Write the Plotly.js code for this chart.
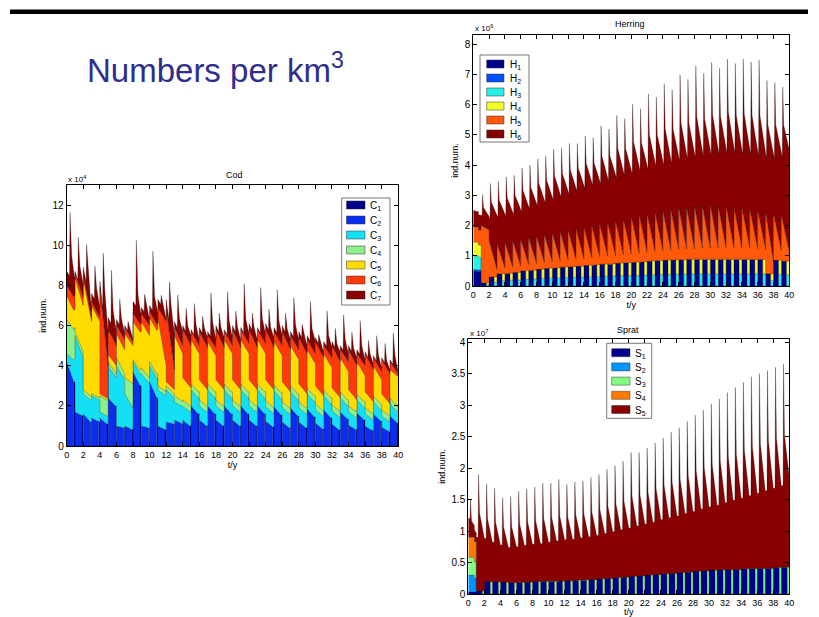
<!DOCTYPE html>
<html><head><meta charset="utf-8">
<script src="https://cdn.plot.ly/plotly-3.0.1.min.js"></script>
<style>html,body{margin:0;padding:0;background:#fff;}#chart{width:819px;height:617px;}</style>
</head><body><div id="chart"></div>
<script>
// ---------------- Cod (x 10^4 ind.), one cycle per year ----------------
const codNames = ['C<sub>1</sub>','C<sub>2</sub>','C<sub>3</sub>','C<sub>4</sub>','C<sub>5</sub>','C<sub>6</sub>','C<sub>7</sub>'];
const codC1 = [3.2,1.5,1.2,1.2,1.1,2.0,0.9,0.8,3.0,0.9,2.4,0.8,1.1,1.1,1.0,1.6,1.0,1.6,1.0,1.6,1.0,1.6,1.0,1.6,0.95,1.55,0.9,1.5,0.9,1.45,0.85,1.4,0.8,1.35,0.8,1.3,0.75,1.25,0.7,1.15];
const codC2Start = [4.2,1.7,1.6,1.4,1.4,2.4,1.0,1.0,3.7,1.0,3.2,1.0,1.2,1.3,1.3,2.0,1.3,2.0,1.3,2.0,1.3,2.0,1.3,2.0,1.25,1.95,1.2,1.9,1.2,1.85,1.15,1.8,1.1,1.7,1.05,1.65,1.0,1.6,0.95,1.5];
const codC2End = [3.2,1.5,1.2,1.2,1.1,2.0,0.9,0.8,3.0,0.9,2.4,0.8,1.1,1.1,1.0,1.6,1.0,1.6,1.0,1.6,1.0,1.6,1.0,1.6,0.95,1.55,0.9,1.5,0.9,1.45,0.85,1.4,0.8,1.35,0.8,1.3,0.75,1.25,0.7,1.15];
const codC3Start = [0.4,3.8,1.0,1.1,0.3,1.6,3.0,1.6,0.5,2.6,0.8,1.8,1.6,0.9,0.7,0.8,0.7,0.8,0.7,0.8,0.7,0.8,0.7,0.8,0.7,0.8,0.7,0.8,0.7,0.75,0.65,0.7,0.65,0.7,0.65,0.65,0.6,0.6,0.55,0.6];
const codC3End = [1.2,2.9,1.1,1.1,0.4,1.4,2.4,1.1,0.6,2.2,1.0,1.7,1.3,0.9,0.7,0.8,0.7,0.8,0.7,0.8,0.7,0.8,0.7,0.8,0.7,0.8,0.7,0.8,0.7,0.75,0.65,0.7,0.65,0.65,0.6,0.6,0.55,0.55,0.5,0.55];
const codC4Start = [1.7,0.2,0.2,0.1,0.8,0.2,0.4,0.8,0.1,0.3,0.2,0.2,0.2,0.3,0.3,0.3,0.3,0.3,0.3,0.3,0.3,0.3,0.3,0.3,0.3,0.3,0.3,0.3,0.3,0.3,0.3,0.3,0.3,0.3,0.3,0.3,0.3,0.3,0.3,0.3];
const codC4End = [1.5,0.3,0.2,0.1,0.8,0.2,0.3,1.2,0.2,0.3,0.2,0.2,0.2,0.2,0.3,0.3,0.3,0.3,0.3,0.3,0.3,0.3,0.3,0.3,0.3,0.3,0.3,0.3,0.3,0.3,0.3,0.3,0.3,0.3,0.3,0.3,0.3,0.3,0.3,0.2];
const codC5Start = [1.2,2.7,5.5,4.4,0.1,0.4,1.2,2.2,1.9,2.3,2.2,3.4,0.2,3.0,1.1,2.2,1.0,2.1,1.0,2.2,1.0,2.2,1.0,2.2,1.05,2.15,1.0,2.0,0.9,1.9,0.9,1.8,0.85,1.7,0.8,1.6,0.8,1.5,0.8,1.4];
const codC5End = [0.9,2.3,3.7,3.8,0.1,0.4,1.2,1.9,1.9,2.1,2.2,1.3,0.2,2.4,0.9,1.9,0.8,1.8,0.8,1.9,0.8,1.9,0.8,1.9,0.85,1.85,0.8,1.7,0.7,1.6,0.7,1.5,0.65,1.4,0.6,1.3,0.6,1.2,0.6,1.6];
const codC6Start = [0.5,0.2,0.2,0.2,5.3,1.2,0.4,0.3,0.4,0.4,0.3,0.5,3.6,0.4,2.4,0.4,2.4,0.3,2.5,0.4,2.5,0.5,2.5,0.5,2.5,0.5,2.5,0.5,2.3,0.5,2.2,0.4,2.1,0.4,2.0,0.4,1.9,0.4,1.7,0.4];
const codC6End = [0.7,0.4,0.2,0.2,1.6,1.0,0.5,0.2,0.4,0.5,0.3,2.2,1.0,0.4,2.1,0.4,2.1,0.4,2.1,0.4,2.1,0.5,2.1,0.5,2.1,0.5,2.1,0.5,2.0,0.5,1.9,0.5,1.8,0.5,1.7,0.5,1.6,0.4,1.5,0.1];
const codC7Start = [0.7,0.1,0.4,0.4,0.3,0.6,0.3,0.1,0.6,0.3,0.3,0.4,0.5,0.3,0.2,0.1,0.2,0.2,0.2,0.1,0.2,0.1,0.3,0.1,0.3,0.2,0.3,0.2,0.3,0.2,0.2,0.2,0.2,0.2,0.2,0.2,0.1,0.1,0.1,0.1];
const codC7Peak = [3.9,2.3,2.4,2.1,3.3,3.3,1.6,0.6,3.9,1.2,3.3,0.9,2.6,2.0,1.4,1.7,1.1,2.4,1.2,2.3,1.3,2.6,1.2,2.4,1.4,2.4,1.3,2.2,1.0,2.2,0.7,2.0,1.2,2.0,1.2,1.9,1.0,1.4,1.1,1.7];
const codC7Shoulder = [1.9,1.1,1.4,1.2,2.2,1.5,0.8,0.4,1.3,0.8,1.2,0.6,2.0,1.0,0.7,0.8,0.7,1.1,0.7,1.0,0.7,1.0,0.7,1.0,0.7,1.0,0.7,1.0,0.7,1.0,0.5,0.9,0.6,0.9,0.6,0.8,0.5,0.6,0.4,0.7];
const codC7End = [0.8,0.6,0.4,0.5,1.6,0.7,0.3,0.1,0.4,0.3,0.5,0.1,1.7,0.7,0.5,0.3,0.5,0.4,0.5,0.4,0.4,0.5,0.4,0.5,0.5,0.5,0.5,0.5,0.4,0.6,0.3,0.5,0.5,0.4,0.4,0.3,0.3,0.2,0.2,0.1];

// ---------------- Herring (x 10^6 ind.) ----------------
const herNames = ['H<sub>1</sub>','H<sub>2</sub>','H<sub>3</sub>','H<sub>4</sub>','H<sub>5</sub>','H<sub>6</sub>'];
const herH1Early = [0.5,0.1,0.3,0.4,0.42,0.45,0.5,0.52,0.55,0.58,0.6,0.62,0.64,0.65,0.68,0.7,0.72,0.73,0.75,0.77,0.78,0.8,0.82,0.84,0.85,0.86,0.87,0.88,0.9,0.9,0.9,0.9,0.9,0.9,0.9,0.9,0.88,0.4,0.85,0.82];
const herH1Late = [0.48,0,0,0,0,0,0,0,0,0,0,0,0,0,0,0,0,0,0,0,0,0,0,0,0,0,0,0,0,0,0,0,0,0,0,0,0,0,0,0];
const herH2Early = [0.05,0,0,0,0,0,0,0,0,0,0,0,0,0,0,0,0,0,0,0,0,0,0,0,0,0,0,0,0,0,0,0,0,0,0,0,0,0,0,0];
const herH2Late = [0.05,0,0,0,0,0,0,0,0,0,0,0,0,0,0,0,0,0,0,0,0,0,0,0,0,0,0,0,0,0,0,0,0,0,0,0,0,0,0,0];
const herH3Early = [0.45,0,0,0,0,0,0,0,0,0,0,0,0,0,0,0,0,0,0,0,0,0,0,0,0,0,0,0,0,0,0,0,0,0,0,0,0,0,0,0];
const herH3Late = [0.42,0.05,0.13,0.18,0.19,0.2,0.22,0.23,0.25,0.26,0.27,0.28,0.29,0.29,0.31,0.31,0.32,0.33,0.34,0.35,0.35,0.36,0.37,0.38,0.38,0.39,0.39,0.4,0.4,0.4,0.4,0.4,0.4,0.4,0.4,0.4,0.4,0.18,0.38,0.37];
const herH4Early = [0.45,0,0,0,0,0,0,0,0,0,0,0,0,0,0,0,0,0,0,0,0,0,0,0,0,0,0,0,0,0,0,0,0,0,0,0,0,0,0,0];
const herH4Late = [0.4,0.05,0.17,0.22,0.23,0.25,0.28,0.29,0.3,0.32,0.33,0.34,0.35,0.36,0.37,0.39,0.4,0.4,0.41,0.42,0.43,0.44,0.45,0.46,0.47,0.47,0.48,0.48,0.5,0.5,0.5,0.5,0.5,0.5,0.5,0.5,0.48,0.22,0.47,0.45];
const herH5Start = [0.5,1.9,1.2,1.0,1.03,1.05,1.05,1.08,1.1,1.12,1.15,1.18,1.21,1.25,1.27,1.3,1.33,1.37,1.4,1.43,1.52,1.55,1.58,1.61,1.65,1.69,1.73,1.72,1.75,1.75,1.8,1.75,1.75,1.7,1.7,1.65,1.62,2.05,1.55,1.53];
const herH5End = [0.5,1.75,0.24,0.2,0.2,0.21,0.21,0.22,0.22,0.22,0.23,0.24,0.24,0.25,0.25,0.26,0.27,0.27,0.28,0.29,0.3,0.31,0.32,0.32,0.33,0.34,0.35,0.34,0.35,0.35,0.36,0.35,0.35,0.34,0.34,0.33,0.32,0.4,0.31,0.31];
const herH6Start = [0.55,0.35,0.8,0.95,0.95,0.95,1.0,1.05,1.1,1.15,1.2,1.25,1.3,1.35,1.4,1.45,1.45,1.5,1.55,1.6,1.55,1.6,1.6,1.65,1.65,1.65,1.7,1.75,1.75,1.8,1.8,1.85,1.9,1.95,1.9,1.95,1.95,1.95,1.95,2.05];
const herH6Peak = [0.55,1.05,2.05,2.2,2.3,2.3,2.5,2.55,2.7,2.75,2.93,2.93,3.03,2.98,3.18,3.08,3.43,3.28,3.68,3.53,3.92,3.72,4.17,4.02,4.42,4.17,4.62,4.47,4.87,4.62,4.94,4.79,5.09,4.99,5.14,5.09,5.19,4.63,4.54,4.44];
const herH6Shoulder = [0.52,0.64,1.55,1.65,1.7,1.73,1.84,1.9,2.0,2.05,2.15,2.18,2.26,2.28,2.4,2.36,2.54,2.52,2.72,2.66,2.82,2.75,2.97,2.91,3.08,3.02,3.21,3.18,3.35,3.28,3.38,3.37,3.49,3.43,3.49,3.46,3.5,3.36,3.28,3.32];
const herH6End = [0.5,0.45,1.81,1.8,1.83,1.89,1.94,2.01,2.08,2.15,2.22,2.29,2.37,2.45,2.52,2.54,2.61,2.7,2.77,2.79,2.87,2.89,2.96,2.99,3.02,3.1,3.13,3.18,3.2,3.25,3.24,3.3,3.3,3.26,3.26,3.22,3.2,3.55,3.24,3.37];

// ---------------- Sprat (x 10^7 ind.) ----------------
const sprNames = ['S<sub>1</sub>','S<sub>2</sub>','S<sub>3</sub>','S<sub>4</sub>','S<sub>5</sub>'];
const sprS1Early = [0.03,0.05,0.2,0.2,0.19,0.18,0.18,0.19,0.2,0.21,0.21,0.21,0.21,0.22,0.22,0.23,0.24,0.25,0.26,0.27,0.28,0.29,0.3,0.31,0.32,0.33,0.34,0.35,0.36,0.37,0.38,0.38,0.39,0.39,0.4,0.4,0.41,0.41,0.42,0.43];
const sprS1Late = [0.03,0,0,0,0,0,0,0,0,0,0,0,0,0,0,0,0,0,0,0,0,0,0,0,0,0,0,0,0,0,0,0,0,0,0,0,0,0,0,0];
const sprS2Early = [0.27,0,0,0,0,0,0,0,0,0,0,0,0,0,0,0,0,0,0,0,0,0,0,0,0,0,0,0,0,0,0,0,0,0,0,0,0,0,0,0];
const sprS2Late = [0.23,0,0,0,0,0,0,0,0,0,0,0,0,0,0,0,0,0,0,0,0,0,0,0,0,0,0,0,0,0,0,0,0,0,0,0,0,0,0,0];
const sprS3Early = [0.28,0,0,0,0,0,0,0,0,0,0,0,0,0,0,0,0,0,0,0,0,0,0,0,0,0,0,0,0,0,0,0,0,0,0,0,0,0,0,0];
const sprS3Late = [0.25,0.05,0.2,0.2,0.19,0.18,0.18,0.19,0.2,0.21,0.21,0.21,0.21,0.22,0.22,0.23,0.24,0.25,0.26,0.27,0.28,0.29,0.3,0.31,0.32,0.33,0.34,0.35,0.36,0.37,0.38,0.38,0.39,0.39,0.4,0.4,0.41,0.41,0.42,0.43];
const sprS4Start = [0.32,0,0,0,0,0,0,0,0,0,0,0,0,0,0,0,0,0,0,0,0,0,0,0,0,0,0,0,0,0,0,0,0,0,0,0,0,0,0,0];
const sprS4End = [0.32,0,0,0,0,0,0,0,0,0,0,0,0,0,0,0,0,0,0,0,0,0,0,0,0,0,0,0,0,0,0,0,0,0,0,0,0,0,0,0];
const sprS5Start = [0.3,0.85,0.68,0.62,0.59,0.56,0.57,0.58,0.59,0.59,0.61,0.63,0.65,0.65,0.67,0.68,0.69,0.71,0.73,0.75,0.77,0.79,0.81,0.83,0.86,0.88,0.9,0.93,0.95,0.98,1.0,1.03,1.06,1.1,1.12,1.16,1.19,1.23,1.26,1.29];
const sprS5Peak = [0.6,1.85,1.55,1.48,1.34,1.37,1.45,1.48,1.5,1.55,1.55,1.61,1.53,1.56,1.58,1.62,1.66,1.73,1.78,1.84,1.97,1.96,2.02,2.09,2.16,2.24,2.3,2.39,2.48,2.55,2.64,2.72,2.81,2.89,2.96,3.05,3.09,3.14,3.18,3.22];
const sprS5Shoulder = [0.26,1.24,0.99,0.94,0.87,0.89,0.93,0.95,0.96,0.99,1.0,1.03,1.01,1.03,1.05,1.07,1.1,1.14,1.17,1.2,1.27,1.28,1.31,1.36,1.4,1.44,1.48,1.53,1.59,1.63,1.67,1.73,1.78,1.83,1.88,1.94,1.97,2.02,2.05,2.09];
const sprS5End = [0.14,0.83,0.62,0.58,0.55,0.57,0.59,0.6,0.6,0.61,0.63,0.65,0.66,0.67,0.69,0.7,0.72,0.74,0.76,0.78,0.8,0.82,0.84,0.87,0.89,0.91,0.94,0.96,0.99,1.01,1.03,1.07,1.1,1.13,1.16,1.2,1.23,1.27,1.3,1.42];

const xTicks = [0,2,4,6,8,10,12,14,16,18,20,22,24,26,28,30,32,34,36,38,40];

const codColors = ['#00008c','#0a2ef0','#14e0f5','#8cf08c','#ffdc00','#ff3a0a','#880000'];
const herColors = ['#00008c','#0050ff','#28f0e6','#f0ff28','#ff5a0a','#880000'];
const sprColors = ['#00008c','#0096ff','#82ff82','#ff7a00','#880000'];

// ---------- helpers that turn the per-year values into polyline points ----------
const val = (v,k) => Array.isArray(v) ? v[k] : v;
function phases(aStart, aEnd, bStart, bEnd, split) {
  const x=[], y=[];
  for (let k=0;k<40;k++){
    x.push(k, k+split, k+split+0.01, k+0.999);
    y.push(val(aStart,k), val(aEnd,k), val(bStart,k), val(bEnd,k));
  }
  return {x,y};
}
function linear(s, e) {
  const x=[], y=[];
  for (let k=0;k<40;k++){ x.push(k, k+0.999); y.push(s[k], e[k]); }
  return {x,y};
}
function spike(s, p, sh, e, tp, ts) {
  const x=[], y=[];
  for (let k=0;k<40;k++){
    x.push(k, k+tp-0.06, k+tp, k+tp+ts, k+0.999);
    y.push(s[k], s[k], p[k], sh[k], e[k]);
  }
  return {x,y};
}
function area(pts, name, color, xa, ya, group) {
  return {type:'scatter', mode:'lines', x:pts.x, y:pts.y, name:name, stackgroup:group,
    stackgaps:'interpolate', fillcolor:color, line:{color:'rgba(0,0,0,0.55)', width:0.5},
    xaxis:xa, yaxis:ya, showlegend:false, hoverinfo:'skip'};
}

const traces = [
  area(phases(0,0,codC1,codC1,0.85),codNames[0],codColors[0],'x','y','cod'),
  area(phases(codC2Start,codC2End,0,0,0.85),codNames[1],codColors[1],'x','y','cod'),
  area(linear(codC3Start,codC3End),codNames[2],codColors[2],'x','y','cod'),
  area(linear(codC4Start,codC4End),codNames[3],codColors[3],'x','y','cod'),
  area(linear(codC5Start,codC5End),codNames[4],codColors[4],'x','y','cod'),
  area(linear(codC6Start,codC6End),codNames[5],codColors[5],'x','y','cod'),
  area(spike(codC7Start,codC7Peak,codC7Shoulder,codC7End,0.4,0.2),codNames[6],codColors[6],'x','y','cod'),

  area(phases(herH1Early,herH1Early,herH1Late,herH1Late,0.64),herNames[0],herColors[0],'x2','y2','her'),
  area(phases(herH2Early,herH2Early,herH2Late,herH2Late,0.64),herNames[1],herColors[1],'x2','y2','her'),
  area(phases(herH3Early,herH3Early,herH3Late,herH3Late,0.64),herNames[2],herColors[2],'x2','y2','her'),
  area(phases(herH4Early,herH4Early,herH4Late,herH4Late,0.64),herNames[3],herColors[3],'x2','y2','her'),
  area(linear(herH5Start,herH5End),herNames[4],herColors[4],'x2','y2','her'),
  area(spike(herH6Start,herH6Peak,herH6Shoulder,herH6End,0.17,0.12),herNames[5],herColors[5],'x2','y2','her'),

  area(phases(sprS1Early,sprS1Early,sprS1Late,sprS1Late,0.75),sprNames[0],sprColors[0],'x3','y3','spr'),
  area(phases(sprS2Early,sprS2Early,sprS2Late,sprS2Late,0.75),sprNames[1],sprColors[1],'x3','y3','spr'),
  area(phases(sprS3Early,sprS3Early,sprS3Late,sprS3Late,0.75),sprNames[2],sprColors[2],'x3','y3','spr'),
  area(linear(sprS4Start,sprS4End),sprNames[3],sprColors[3],'x3','y3','spr'),
  area(spike(sprS5Start,sprS5Peak,sprS5Shoulder,sprS5End,0.28,0.12),sprNames[4],sprColors[4],'x3','y3','spr')
];

const W=819, H=617;
const px = v => v/W, py = v => 1 - v/H;
const FONT = 'Arial, "Liberation Sans", sans-serif';

function xAxis(l, r, anchor) {
  return {domain:[px(l),px(r)], anchor:anchor, range:[0,40], tickmode:'array', tickvals:xTicks,
    ticks:'inside', ticklen:4, tickcolor:'#000', showline:true, mirror:'ticks', linecolor:'#000', linewidth:1,
    showgrid:false, zeroline:false, tickfont:{size:9,color:'#000',family:FONT},
    title:{text:'t/y', font:{size:9,color:'#000',family:FONT}, standoff:2}, fixedrange:true};
}
function yAxis(b, t, anchor, max, dtick) {
  return {domain:[py(b),py(t)], anchor:anchor, range:[0,max], dtick:dtick, tick0:0,
    ticks:'inside', ticklen:4, tickcolor:'#000', showline:true, mirror:'ticks', linecolor:'#000', linewidth:1,
    showgrid:false, zeroline:false, tickfont:{size:10,color:'#000',family:FONT},
    title:{text:'ind.num.', font:{size:9,color:'#000',family:FONT}, standoff:4}, fixedrange:true};
}
function note(text, x, y, size, anchor, color) {
  return {text:text, x:px(x), y:py(y), xref:'paper', yref:'paper', showarrow:false,
    xanchor:anchor||'center', yanchor:'middle', font:{size:size, color:color||'#000', family:FONT}};
}

const shapes = [{type:'rect', xref:'paper', yref:'paper', x0:px(10), x1:px(808), y0:py(14), y1:py(9.5), fillcolor:'#000', line:{width:0}}];
const annotations = [
  note('Numbers per km<sup>3</sup>', 215, 68, 33, 'center', '#2e2e8c'),
  note('Cod', 234, 175, 9),
  note('Herring', 630, 24, 9),
  note('Sprat', 628, 330, 9),
  note('x 10<sup>4</sup>', 66, 179, 8, 'left'),
  note('x 10<sup>6</sup>', 473, 28, 8, 'left'),
  note('x 10<sup>7</sup>', 468, 333, 8, 'left')
];

// MATLAB-style legend boxes (patch + label per series)
function legendBox(names, colors, box, patchL, patchR, textX, firstY, step) {
  shapes.push({type:'rect', xref:'paper', yref:'paper', x0:px(box[0]), x1:px(box[1]), y0:py(box[3]), y1:py(box[2]),
    fillcolor:'#fff', line:{color:'#777', width:1}});
  names.forEach((n,i) => {
    const cy = firstY + i*step;
    shapes.push({type:'rect', xref:'paper', yref:'paper', x0:px(patchL), x1:px(patchR), y0:py(cy+4), y1:py(cy-4),
      fillcolor:colors[i], line:{color:'#333', width:0.5}});
    annotations.push(note(n, textX, cy+1, 10, 'left'));
  });
}
legendBox(codNames, codColors, [341.7, 390, 198, 305], 346.5, 365, 368, 205, 15);
legendBox(herNames, herColors, [480, 529, 55, 142], 486.7, 504, 508, 64, 14);
legendBox(sprNames, sprColors, [606.7, 651.7, 343.3, 418.3], 611.7, 630, 633, 352.7, 14.2);

const layout = {
  width:W, height:H, margin:{l:0,r:0,t:0,b:0}, paper_bgcolor:'#fff', plot_bgcolor:'#fff',
  showlegend:false, hovermode:false, font:{family:FONT},
  xaxis: xAxis(66.7, 398.3, 'y'),  yaxis: yAxis(446, 185, 'x', 13, 2),
  xaxis2: xAxis(473.3, 789.3, 'y2'), yaxis2: yAxis(286, 35, 'x2', 8.3, 1),
  xaxis3: xAxis(468.3, 789.3, 'y3'), yaxis3: yAxis(594, 339, 'x3', 4.05, 0.5),
  shapes: shapes, annotations: annotations
};
Plotly.newPlot('chart', traces, layout, {staticPlot:true, displayModeBar:false});
</script>
</body></html>
